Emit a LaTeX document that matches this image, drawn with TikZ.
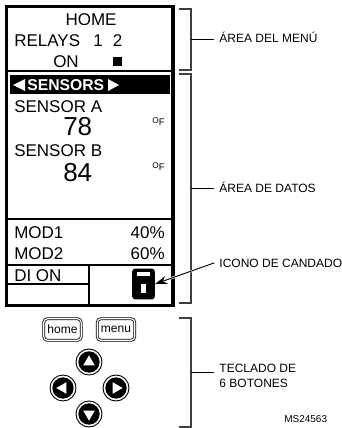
\documentclass[tikz,border=0pt]{standalone}
\usepackage{fontspec}
\setmainfont{Liberation Sans}
\usepackage{xcolor}
\usetikzlibrary{arrows.meta, calc, shapes.geometric}
\tikzset{
  rule/.style={line width=0.9pt},
  lcd/.style={anchor=base west, inner sep=0pt, font=\fontsize{12.75}{14}\selectfont},
  bignum/.style={anchor=base west, inner sep=0pt, font=\fontsize{19.5}{22}\selectfont},
  unit/.style={anchor=base east, inner sep=0pt, font=\fontsize{7.2}{8}\selectfont},
  callout/.style={anchor=base west, inner ysep=0pt, inner xsep=3.75pt, align=left, font=\fontsize{9}{11.25}\selectfont},
  bracket/.style={draw=black!75, line width=0.9pt},
  softkey/.style={draw, double, double distance=0.9pt, line width=0.6pt, rounded corners=2.5pt, minimum width=28pt, minimum height=16pt, inner sep=0pt, font=\fontsize{9}{10}\selectfont},
  link/.style={-{Stealth[length=9pt, width=6pt]}, line width=0.7pt}
}
% arrow button: centre x, centre y, name, rotation
\newcommand{\arrowkey}[4]{%
  \node[circle, draw, line width=0.7pt, minimum size=19.5pt, inner sep=0pt] (#3) at (#1,#2) {};
  \fill (#3) circle (8pt);
  \node[regular polygon, regular polygon sides=3, fill=white, rotate=#4, inner sep=0pt, minimum size=10pt] at (#3) {};
}
\newcommand{\sidebracket}[3]{%
  \draw[bracket] (179,#1) -- (191,#1) -- (191,#2) -- (179,#2);
  \coordinate (#3) at (191,{(#1+#2)/2});
}
\begin{document}
\begin{tikzpicture}[x=0.75pt, y=-0.75pt]
        \useasboundingbox (0,0) rectangle (342,428);

        % Display frame
        \draw[line width=2.8pt] (6.5,6.5) rectangle (173,305.5);
        \draw[rule] (6.5,71) -- (173,71);
        \draw[rule] (6.5,219) -- (173,219);
        \draw[rule] (6.5,265) -- (173,265);
        \draw[rule] (6.5,284) -- (89,284);
        \draw[rule] (89,265) -- (89,305);

        % Menu area
        \node[lcd, anchor=base] (home) at (91,26) {HOME};
        \node[lcd] (relays) at (14,47) {RELAYS};
        \node[lcd] (one) at (93,47) {1};
        \node[lcd] (two) at (112.5,47) {2};
        \node[lcd] (on) at (53,68) {ON};
        \fill (113,57) rectangle (122,66);

        % Sensors
        \fill (10,75) rectangle (170,94);
        \node[lcd, text=white, font=\fontsize{11.8}{14}\bfseries] (sensors) at (27,90) {SENSORS};
        \fill[white] (13,85) -- (25,79) -- (25,91) -- cycle;
        \fill[white] (119,85) -- (108,79) -- (108,91) -- cycle;
        \node[lcd] (sensa) at (14,112) {SENSOR A};
        \node[bignum] (vala) at (63,135) {78};
        \node[unit] (unita) at (165,125) {{\fontsize{6.2}{6}\selectfont\raisebox{0.8pt}{O}}F};
        \node[lcd] (sensb) at (14,156) {SENSOR B};
        \node[bignum] (valb) at (63,181) {84};
        \node[unit] (unitb) at (165,170) {{\fontsize{6.2}{6}\selectfont\raisebox{0.8pt}{O}}F};

        % Outputs
        \node[lcd] (mod1) at (14,238) {MOD1};
        \node[lcd, anchor=base east] (pct1) at (165,238) {40\%};
        \node[lcd] (mod2) at (14,259) {MOD2};
        \node[lcd, anchor=base east] (pct2) at (165,259) {60\%};
        \node[lcd] (dion) at (14,281) {DI ON};

        % Padlock
        \node[fill=black, rounded corners=2.2pt, minimum width=17pt, minimum height=23pt, inner sep=0pt] (lock) at (143.5,284) {};
        \fill[white] (137,272) rectangle (150,276);
        \fill[white] (141,284) rectangle (146,293);

        % Keypad
        \node[softkey] (homekey) at (62.5,329.5) {home};
        \node[softkey] (menukey) at (116,329.5) {menu};
        \arrowkey{89}{362}{keyup}{0}
        \arrowkey{63}{388}{keyleft}{90}
        \arrowkey{116}{388}{keyright}{-90}
        \arrowkey{89}{414}{keydown}{180}

        % Brackets
        \sidebracket{9}{70}{brmenu}
        \sidebracket{74}{303}{brdata}
        \sidebracket{318}{427}{brkeys}

        % Callouts
        \node[callout] (lblmenu) at (214.2,43) {ÁREA DEL MENÚ};
        \node[callout] (lbldata) at (214.2,192) {ÁREA DE DATOS};
        \node[callout] (lblicon) at (214.2,267) {ICONO DE CANDADO};
        \node[callout, anchor=north west] (lblkeys) at (214.2,364) {TECLADO DE\\6 BOTONES};
        \node[anchor=base west, inner sep=0pt, font=\fontsize{7.5}{9}\selectfont] (msnum) at (284,422) {MS24563};

        % Links
        \draw (brmenu) -- (brmenu -| lblmenu.west);
        \draw (brdata) -- (brdata -| lbldata.west);
        \draw (brkeys) -- (brkeys -| lblkeys.west);
        \draw[white, line width=1.6pt, shorten >=8pt] (lblicon.west) -- (lock.east);
        \draw[link] (lblicon.west) -- (lock.east);
    \end{tikzpicture}
\end{document}
